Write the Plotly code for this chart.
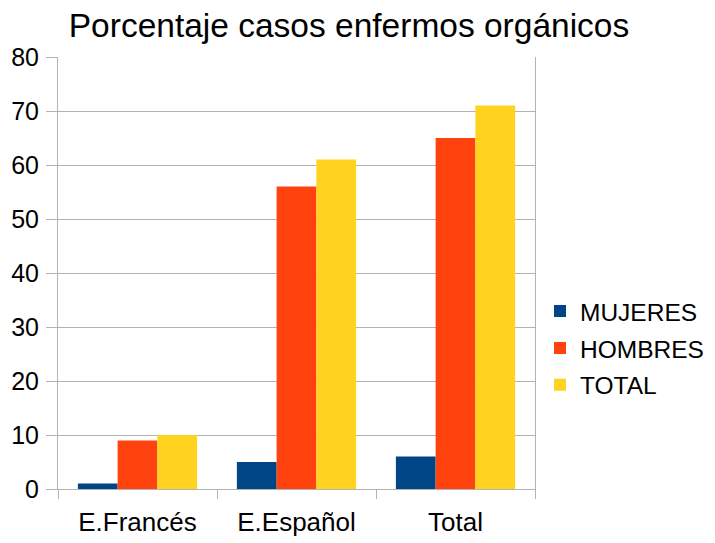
import plotly.graph_objects as go

categories = ["E.Francés", "E.Español", "Total"]
mujeres = [1, 5, 6]
hombres = [9, 56, 65]
total = [10, 61, 71]
y_ticks = [0, 10, 20, 30, 40, 50, 60, 70, 80]

fig = go.Figure()
fig.add_trace(go.Bar(name="MUJERES", x=categories, y=mujeres, marker_color="#004586",
                     marker_line_width=0, legendgroup="m"))
fig.add_trace(go.Bar(name="HOMBRES", x=categories, y=hombres, marker_color="#ff420e",
                     marker_line_width=0, legendgroup="h"))
fig.add_trace(go.Bar(name="TOTAL", x=categories, y=total, marker_color="#ffd320",
                     marker_line_width=0, legendgroup="t"))

grid = "#b3b3b3"
W, H = 716, 535
fig.update_layout(
    width=W, height=H,
    margin=dict(l=50, r=W - 527, t=49, b=54),
    paper_bgcolor="white", plot_bgcolor="white",
    font=dict(family="Liberation Sans, Arial, sans-serif", color="#000000", size=26),
    title=dict(text="Porcentaje casos enfermos orgánicos", x=341 / W, xanchor="center",
               y=1 - 17 / H, yanchor="middle", font=dict(size=33.5, color="#000000")),
    barmode="group", bargap=0.25, bargroupgap=0,
    showlegend=True,
    legend=dict(x=1.0105, xanchor="left", y=0.326, yanchor="middle", traceorder="grouped",
                font=dict(size=24.5), tracegroupgap=2, itemwidth=30, borderwidth=0),
    xaxis=dict(type="category", range=[-0.5, 2.5], tickson="boundaries", ticks="outside",
               ticklen=9, tickcolor=grid, showline=True, linecolor=grid, linewidth=1,
               showgrid=False, tickfont=dict(size=26), automargin=False, ticklabelstandoff=10),
    yaxis=dict(range=[0, 80], tickvals=y_ticks, ticks="outside", ticklen=11, tickcolor=grid,
               showgrid=True, gridcolor=grid, showline=True, linecolor=grid, mirror=True,
               zeroline=False, tickfont=dict(size=25), automargin=False, ticklabelstandoff=2),
)

fig.write_html("out.html")
